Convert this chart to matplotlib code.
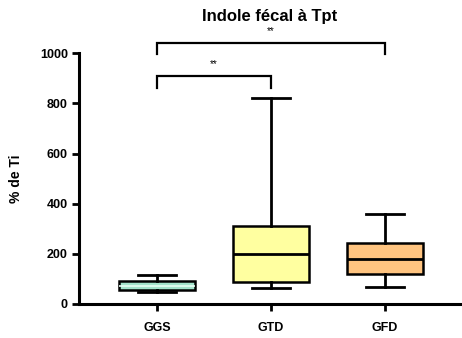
import numpy as np
import matplotlib
matplotlib.use('Agg')
import matplotlib.pyplot as plt

plt.rcParams['font.family'] = ['Liberation Sans', 'DejaVu Sans']
plt.rcParams['font.weight'] = 'bold'

groups = ['GGS', 'GTD', 'GFD']
mins = [49, 62, 67]
q1s = [56, 89, 120]
medians = [73, 199, 178]
q3s = [92, 311, 242]
maxs = [115, 820, 357]
fills = ['#a3e3cb', '#ffffa0', '#ffc480']
median_colors = ['#e8fff4', 'black', 'black']

# significance brackets: (left group, right group, height, label)
brackets = [(1, 2, 908, '**'), (1, 3, 1040, '**')]

fig = plt.figure(figsize=(4.62, 3.38), dpi=100)
ax = fig.add_axes([0.171, 0.1006, 0.825, 0.742])

stats = []
for i, g in enumerate(groups):
    stats.append(dict(label=g, whislo=mins[i], q1=q1s[i], med=medians[i],
                      q3=q3s[i], whishi=maxs[i]))

pos = np.arange(1, len(groups) + 1)
bp = ax.bxp(stats, positions=pos, widths=0.66, patch_artist=True,
            showfliers=False, manage_ticks=False,
            boxprops=dict(linewidth=1.8, edgecolor='black'),
            whiskerprops=dict(linewidth=2.0, color='black'),
            capprops=dict(linewidth=2.0, color='black'),
            medianprops=dict(linewidth=2.0, color='black'),
            capwidths=0.33)
for patch, c in zip(bp['boxes'], fills):
    patch.set_facecolor(c)
for med, c in zip(bp['medians'], median_colors):
    med.set_color(c)
    if c != 'black':
        med.set_linewidth(1.2)

# brackets with stars above
for a, b, h, txt in brackets:
    tip = 45
    ax.plot([a, a, b, b], [h - tip, h, h, h - tip], color='black', lw=1.6,
            clip_on=False, solid_joinstyle='miter')
    ax.text((a + b) / 2, h + 28, txt, ha='center', va='bottom', fontsize=7,
            fontweight='normal')

ax.set_xlim(0.316, 3.658)
ax.set_ylim(0, 1000)
ax.set_xticks(pos)
ax.set_xticklabels(groups, fontsize=9, fontweight='bold')
ax.set_yticks([0, 200, 400, 600, 800, 1000])
ax.set_yticklabels(['0', '200', '400', '600', '800', '1000'], fontsize=9,
                   fontweight='bold')
ax.tick_params(axis='both', direction='out', length=5, width=2.0, pad=3)
ax.tick_params(axis='x', pad=8)
ax.set_ylabel('% de Ti', fontsize=10, fontweight='bold', labelpad=12)

for side in ['top', 'right']:
    ax.spines[side].set_visible(False)
for side in ['left', 'bottom']:
    ax.spines[side].set_linewidth(2.2)

fig.text(0.583, 0.952, 'Indole fécal à Tpt', ha='center', va='center',
         fontsize=12, fontweight='bold')

plt.savefig('out.png', dpi=100)
